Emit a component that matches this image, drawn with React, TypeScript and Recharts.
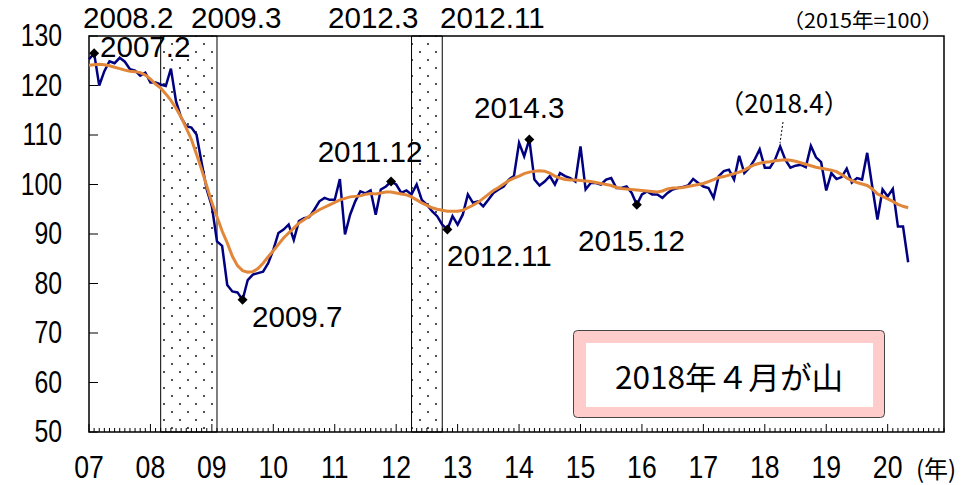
import { ComposedChart, Line, XAxis, YAxis, ReferenceArea } from 'recharts'

// coincident index, monthly from 2007.1 (2015=100)
const ciValues = [
  125.3, 126.5, 120.0, 122.9, 124.9, 124.5, 125.6, 124.8, 123.3, 123.0, 122.0, 122.6,
  120.6, 120.6, 120.2, 119.9, 123.4, 116.8, 113.5, 111.8, 111.5, 110.1, 104.4, 99.0,
  95.6, 88.5, 87.6, 79.7, 78.4, 78.2, 76.7, 80.7, 81.8, 82.1, 82.4, 84.1,
  86.8, 90.2, 90.9, 91.9, 88.8, 92.6, 93.2, 93.4, 94.9, 96.6, 97.3, 96.9,
  96.9, 101.1, 89.9, 93.9, 96.6, 98.6, 98.2, 98.8, 93.9, 99.0, 99.6, 100.6,
  100.0, 98.3, 98.8, 98.0, 100.0, 96.9, 95.9, 94.6, 93.6, 91.9, 90.9, 93.6,
  91.9, 93.9, 98.0, 96.3, 96.6, 95.6, 96.9, 98.3, 99.0, 99.6, 101.0, 101.7,
  108.4, 105.7, 109.1, 101.0, 99.8, 100.6, 101.7, 100.0, 102.3, 101.7, 101.3, 100.6,
  107.7, 99.0, 100.3, 100.3, 100.0, 101.0, 101.3, 99.3, 99.3, 99.6, 98.3, 95.9,
  98.0, 98.6, 98.0, 98.0, 97.3, 98.3, 99.0, 99.3, 99.5, 99.8, 101.1, 100.3,
  99.6, 99.3, 97.3, 101.7, 102.7, 103.0, 101.0, 105.8, 102.3, 103.4, 105.0, 107.1,
  103.4, 103.4, 105.0, 107.7, 105.0, 103.4, 103.8, 104.0, 103.5, 107.8, 105.5, 104.5,
  98.8, 102.3, 101.1, 101.5, 103.2, 100.4, 101.3, 101.0, 106.4, 99.5, 92.9, 99.0,
  97.6, 99.1, 91.5, 91.5, 84.3,
]

// trend line
const trendValues = [
  124.1, 124.2, 124.3, 124.2, 124.0, 123.7, 123.4, 123.1, 122.9, 122.8, 122.6, 122.1,
  121.3, 120.3, 119.5, 118.3, 117.0, 115.4, 113.6, 111.4, 109.1, 106.1, 103.0, 99.7,
  96.3, 93.5, 90.6, 88.2, 85.5, 83.6, 82.6, 82.3, 82.4, 83.0, 84.1, 85.4,
  86.6, 87.9, 89.2, 90.2, 91.2, 92.2, 92.9, 93.6, 94.3, 94.9, 95.4, 95.9,
  96.4, 96.9, 97.2, 97.5, 97.6, 97.7, 98.0, 98.2, 98.1, 98.3, 98.5, 98.5,
  98.3, 98.1, 97.9, 97.5, 96.9, 96.3, 95.8, 95.3, 95.0, 94.8, 94.6, 94.6,
  94.6, 94.8, 95.3, 95.8, 96.4, 97.2, 98.0, 98.8, 99.4, 100.1, 100.8, 101.3,
  101.7, 102.2, 102.5, 102.7, 102.8, 102.7, 102.3, 101.7, 101.3, 101.0, 100.9, 100.9,
  100.8, 100.7, 100.6, 100.4, 100.2, 100.0, 99.8, 99.4, 99.2, 99.1, 99.0, 98.9,
  98.8, 98.7, 98.6, 98.5, 98.7, 99.1, 99.3, 99.3, 99.4, 99.6, 99.8, 100.0,
  100.2, 100.6, 101.0, 101.4, 101.6, 101.9, 102.2, 102.5, 102.9, 103.5, 104.0, 104.3,
  104.5, 104.6, 104.8, 104.9, 105.0, 104.9, 104.7, 104.4, 104.1, 103.8, 103.5, 103.3,
  103.1, 102.9, 102.6, 102.0, 101.3, 100.8, 100.4, 100.1, 99.8, 99.1, 98.1, 97.6,
  97.1, 96.6, 96.0, 95.6, 95.3,
]

const yearLabels = ['07', '08', '09', '10', '11', '12', '13', '14', '15', '16', '17', '18', '19', '20']
const yTicks = [50, 60, 70, 80, 90, 100, 110, 120, 130]
// month index (0 = 2007.1) of marked peaks / troughs
const turningPoints = [1, 30, 59, 70, 86, 107]
const recessions = [
  { from: 14, to: 25 },
  { from: 63, to: 69 },
]

const LAST_MONTH = 167
const NUM_FONT = "'Liberation Sans', Arial, sans-serif"
const JP_FONT = "'Noto Sans CJK JP', sans-serif"

const data = ciValues.map((v, i) => ({ m: i, ci: v, trend: trendValues[i] }))
const monthTicks = Array.from({ length: LAST_MONTH + 1 }, (_, i) => i)

// text squeezed or stretched sideways to mimic the narrow gothic face
function Txt({ x, y, children, anchor = 'start', size = 29, sx = 1.02, font = NUM_FONT }: any) {
  return (
    <text transform={`translate(${x} ${y}) scale(${sx} 1)`} textAnchor={anchor} dominantBaseline="central"
      fontFamily={font} fontSize={size} fill="#000">
      {children}
    </text>
  )
}

function XTick({ x, y, payload }: any) {
  const isYear = payload.value % 12 === 0
  return (
    <g>
      <line x1={x} x2={x} y1={y} y2={y - (isYear ? 8 : 4)} stroke="#000" strokeWidth={1} />
      {isYear && <Txt x={x} y={y + 35} anchor="middle" size={31} sx={0.86}>{yearLabels[payload.value / 12]}</Txt>}
    </g>
  )
}

function YTick({ x, y, payload }: any) {
  return (
    <g>
      <line x1={x} x2={x + 9} y1={y} y2={y} stroke="#000" strokeWidth={1} />
      <Txt x={x - 27} y={y} anchor="end" size={31} sx={0.8}>{payload.value}</Txt>
    </g>
  )
}

function Diamond(props: any) {
  const { cx, cy, index } = props
  if (!turningPoints.includes(index)) return <g key={index} />
  return (
    <polygon key={index} points={`${cx},${cy - 5} ${cx + 5},${cy} ${cx},${cy + 5} ${cx - 5},${cy}`} fill="#000" />
  )
}

export default function App() {
  return (
    <div style={{ position: 'absolute', left: 0, top: 0, width: 962, height: 485, background: '#fff' }}>
      <ComposedChart width={962} height={485} data={data} margin={{ top: 36, right: 18, bottom: 0, left: 0 }}>
        <defs>
          <pattern id="dots" width="16" height="16" patternUnits="userSpaceOnUse">
            <circle cx="4" cy="4" r="0.9" fill="#000" />
            <circle cx="12" cy="12" r="0.9" fill="#000" />
          </pattern>
        </defs>
        <XAxis dataKey="m" type="number" domain={[0, LAST_MONTH]} ticks={monthTicks} interval={0}
          tick={XTick} tickLine={false} axisLine={false} tickSize={0} tickMargin={0} height={53} />
        <YAxis domain={[50, 130]} ticks={yTicks} interval={0} tick={YTick} tickLine={false}
          axisLine={false} tickSize={0} tickMargin={0} width={89} />
        {recessions.map(r => (
          <ReferenceArea key={r.from} x1={r.from} x2={r.to} y1={50} y2={130}
            fill="url(#dots)" fillOpacity={1} stroke="#000" strokeWidth={1} />
        ))}
        <ReferenceArea x1={0} x2={LAST_MONTH} y1={50} y2={130} fill="none" stroke="#000" strokeWidth={1.5} />
        <Line dataKey="ci" type="linear" stroke="#000080" strokeWidth={2.5} dot={Diamond}
          activeDot={false} isAnimationActive={false} />
        <Line dataKey="trend" type="linear" stroke="#E2873A" strokeWidth={3} dot={false}
          activeDot={false} isAnimationActive={false} />
      </ComposedChart>
      <svg width={962} height={485} style={{ position: 'absolute', left: 0, top: 0, pointerEvents: 'none' }}>
        <Txt x={83} y={18}>2008.2</Txt>
        <Txt x={191} y={18}>2009.3</Txt>
        <Txt x={328} y={18}>2012.3</Txt>
        <Txt x={440} y={18}>2012.11</Txt>
        <Txt x={100} y={47}>2007.2</Txt>
        <Txt x={370} y={152} anchor="middle">2011.12</Txt>
        <Txt x={252} y={317}>2009.7</Txt>
        <Txt x={447} y={256}>2012.11</Txt>
        <Txt x={474} y={108}>2014.3</Txt>
        <Txt x={578} y={241}>2015.12</Txt>
        <Txt x={784} y={101} anchor="middle" size={26} sx={1} font={JP_FONT}>（2018.4）</Txt>
        <line x1={783} y1={122} x2={780} y2={143} stroke="#000" strokeWidth={1} strokeDasharray="2 2" />
        <Txt x={943} y={19} anchor="end" size={20} sx={1.08} font={JP_FONT}>（2015年=100）</Txt>
        <Txt x={916} y={467} size={24} sx={1} font={JP_FONT}>(年)</Txt>
        <rect x={573.5} y={330.5} width={311} height={87} rx={4} fill="#FFCCCC" stroke="#444" strokeWidth={1} />
        <rect x={586} y={343} width={287} height={64} fill="#fff" />
        <Txt x={729} y={376} anchor="middle" size={31} sx={1.02} font={JP_FONT}>2018年４月が山</Txt>
      </svg>
    </div>
  )
}
